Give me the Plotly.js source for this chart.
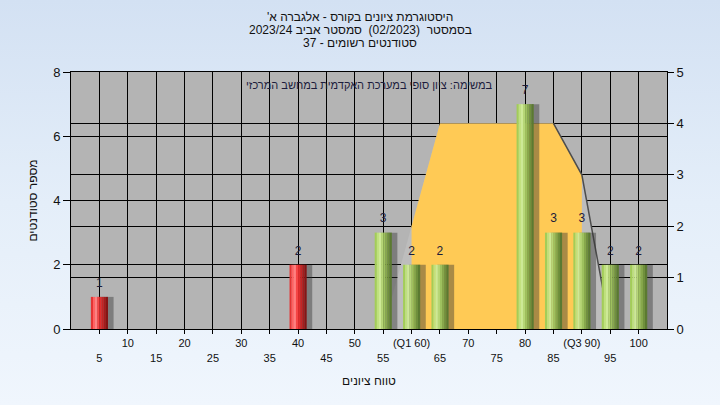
<!DOCTYPE html>
<html><head><meta charset="utf-8">
<script src="https://cdn.plot.ly/plotly-3.0.1.min.js"></script>
<style>
html,body{margin:0;padding:0;}
#chart{width:720px;height:405px;background:linear-gradient(180deg,#d3e1f3 0%,#e4eef9 50%,#f0f6fd 100%);}
</style></head><body><div id="chart"></div>
<script>
// ---- data ----
const grades = [5, 40, 55, 60, 65, 80, 85, 90, 95, 100];
const counts = [1, 2, 3, 2, 2, 7, 3, 3, 2, 2];
const passGrade = 55;
const curveX = [55, 60, 65, 70, 75, 80, 85, 90, 95];
const curveY = [0, 2, 4, 4, 4, 4, 4, 3, 0];
const q1 = 60, q3 = 90;
const edgeFrom = 85;
const tickVals = [5,10,15,20,25,30,35,40,45,50,55,60,65,70,75,80,85,90,95,100];
const tickLabels = ['5','10','15','20','25','30','35','40','45','50','55','(Q1 60)','65','70','75','80','85','(Q3 90)','95','100'];
const titleLines = ["'היסטוגרמת ציונים בקורס - אלגברה א", "בסמסטר  (02/2023)  סמסטר אביב 2023/24", "סטודנטים רשומים - 37"];
const taskNote = "במשימה: ציון סופי במערכת האקדמית במחשב המרכזי";
const xTitle = "טווח ציונים";
const yTitle = "מספר סטודנטים";

// ---- styles ----
const FONT = '"Liberation Sans", Arial, "DejaVu Sans", sans-serif';
const greenStops = ['#a3cd58','#bfe07e','#cde996','#b6d676','#9ec15e','#87a84c','#70903d','#5b7a31'];
const redStops   = ['#e43434','#ff6262','#ff8080','#f54545','#e02e2e','#c42424','#a51c1c','#861515'];
const barW = 3;

const traces = [];
// distribution area (right axis = main y)
traces.push({x: curveX, y: curveY, yaxis: 'y', type: 'scatter', mode: 'lines', fill: 'tozeroy',
  fillcolor: '#bdbdbd', line: {width: 0, color: '#bdbdbd'}, hoverinfo: 'skip', showlegend: false});
const inQ = curveX.map((x, i) => (x >= q1 && x <= q3) ? i : -1).filter(i => i >= 0);
traces.push({x: inQ.map(i => curveX[i]), y: inQ.map(i => curveY[i]), yaxis: 'y', type: 'scatter', mode: 'lines',
  fill: 'tozeroy', fillcolor: '#ffca55', line: {width: 0, color: '#ffca55'}, hoverinfo: 'skip', showlegend: false});
const edge = curveX.map((x, i) => x >= edgeFrom ? i : -1).filter(i => i >= 0);
traces.push({x: edge.map(i => curveX[i]), y: edge.map(i => curveY[i]), yaxis: 'y', type: 'scatter', mode: 'lines',
  line: {width: 1.5, color: '#4d4d4d'}, hoverinfo: 'skip', showlegend: false});

// bar shadow
traces.push({x: grades, y: counts, yaxis: 'y2', type: 'bar', width: barW, offset: -barW/2 + 1.0,
  marker: {color: 'rgba(50,50,50,0.42)', line: {width: 0}}, hoverinfo: 'skip', showlegend: false});
// cylinder stripes
const n = greenStops.length;
for (let k = 0; k < n; k++) {
  traces.push({x: grades, y: counts, yaxis: 'y2', type: 'bar', width: barW / n + 0.02, offset: -barW/2 + k * barW / n,
    marker: {color: grades.map(g => g < passGrade ? redStops[k] : greenStops[k]), line: {width: 0}},
    hoverinfo: 'skip', showlegend: false});
}
// value labels
traces.push({x: grades, y: counts, yaxis: 'y2', type: 'scatter', mode: 'text+markers', text: counts.map(String),
  marker: {size: 10, color: 'rgba(0,0,0,0)'},
  textposition: 'top center', textfont: {family: FONT, size: 12, color: '#1c1c3a'}, cliponaxis: false,
  hoverinfo: 'skip', showlegend: false});

const titlePx = [17, 30, 43];
const plotTop = 72, plotBottom = 329, plotH = plotBottom - plotTop;
const pY = px => (plotBottom - px) / plotH;
const annotations = titleLines.map((t, i) => ({text: t, xref: 'paper', yref: 'paper', x: 0.485, y: pY(titlePx[i]),
  xanchor: 'center', yanchor: 'middle', showarrow: false, font: {family: FONT, size: 12, color: '#111'}}));
annotations.push({text: taskNote, xref: 'paper', yref: 'paper', x: 0.5, y: pY(85), xanchor: 'center', yanchor: 'middle',
  showarrow: false, font: {family: FONT, size: 11, color: '#1c1c3c'}});

const layout = {
  width: 720, height: 405,
  margin: {l: 71, r: 53, t: 72, b: 76},
  paper_bgcolor: 'rgba(0,0,0,0)', plot_bgcolor: '#b4b4b4',
  barmode: 'overlay', showlegend: false,
  font: {family: FONT, size: 11, color: '#111'},
  xaxis: {range: [0, 105], tickmode: 'array', tickvals: tickVals,
    ticktext: tickLabels.map((t, i) => tickVals[i] % 10 === 0 ? t : '<br>' + t),
    ticks: 'outside', ticklen: 4, tickcolor: '#000', showgrid: true, gridcolor: '#000', gridwidth: 1,
    showline: true, linecolor: '#000', mirror: true, zeroline: false, tickfont: {size: 11},
    title: {text: xTitle, font: {size: 12}, standoff: 14}},
  yaxis: {range: [0, 5], dtick: 1, side: 'right', ticks: 'outside', ticklen: 6, tickcolor: '#000',
    showgrid: true, gridcolor: '#000', gridwidth: 1, showline: true, linecolor: '#000', mirror: true,
    zeroline: false, tickfont: {size: 13}},
  yaxis2: {range: [0, 8], dtick: 2, side: 'left', overlaying: 'y', ticks: 'outside', ticklen: 7, tickcolor: '#000',
    showgrid: true, gridcolor: '#000', gridwidth: 1, showline: true, linecolor: '#000', zeroline: false,
    tickfont: {size: 13}, title: {text: yTitle, font: {size: 12}, standoff: 12}},
  annotations: annotations
};
Plotly.newPlot('chart', traces, layout, {displayModeBar: false, staticPlot: true});
</script></body></html>
